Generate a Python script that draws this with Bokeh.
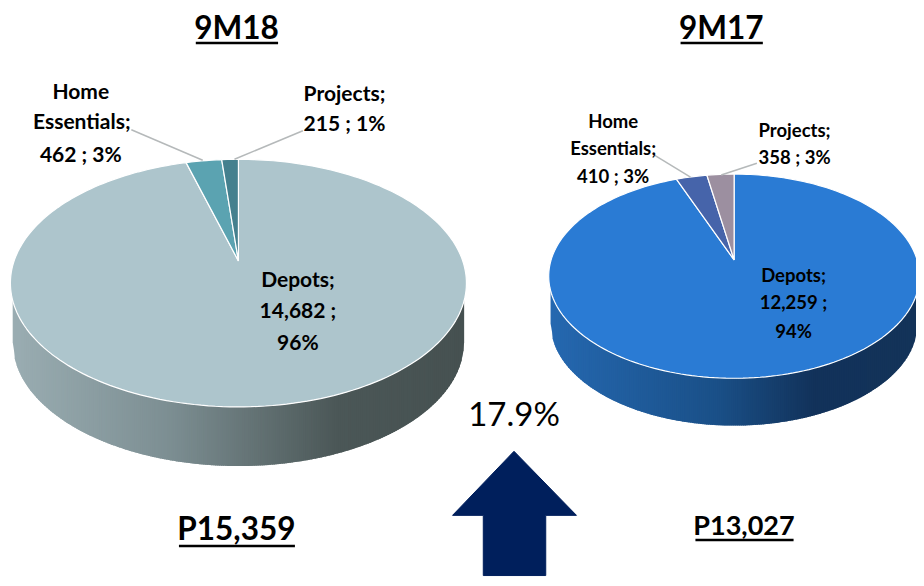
from math import sin, cos, pi, sqrt
from bokeh.plotting import figure
from bokeh.embed import file_html
from bokeh.resources import INLINE
from bokeh.core.properties import value

categories = ["Depots", "Home Essentials", "Projects"]
values_9m18 = [14682, 462, 215]
values_9m17 = [12259, 410, 358]
percent_9m18 = [96, 3, 1]
percent_9m17 = [94, 3, 3]
total_9m18 = "P15,359"
total_9m17 = "P13,027"
growth = "17.9%"
titles = ["9M18", "9M17"]

FONT = "Lato"

p = figure(width=916, height=578, x_range=(0, 924), y_range=(586, 0),
           output_backend="svg", toolbar_location=None, min_border=0,
           x_axis_type=None, y_axis_type=None, outline_line_color=None,
           background_fill_color="white", border_fill_color="white")
p.grid.visible = False


def hexmix(stops, t):
    for (t0, c0), (t1, c1) in zip(stops, stops[1:]):
        if t <= t1:
            u = (t - t0) / (t1 - t0)
            return "#%02x%02x%02x" % tuple(
                round(int(c0[i:i+2], 16) * (1 - u) + int(c1[i:i+2], 16) * u) for i in (1, 3, 5))
    return stops[-1][1]


def pie(vals, cx, ay, top, bottom, rx, depth, cols, wall):
    # perspective disc: the apex sits above the ellipse's middle
    up, dn = ay - top, bottom - ay
    k = (dn - up) / (dn + up)
    b = up * (1 + k)
    r0 = rx * sqrt(1 - k * k)
    cy, ry = (top + bottom) / 2, (bottom - top) / 2

    def pt(th):
        X, Y = sin(th), cos(th)
        s = 1 / (1 + k * Y)
        return cx + r0 * X * s, ay - b * Y * s

    # wall: overlapping strips painted left to right give the gradient
    n = int(rx)
    rb = rx * 0.99
    xs, ys, cs = [], [], []
    for i in range(n):
        x0 = cx - rb + 2 * rb * i / n
        x1 = min(cx + rb, x0 + 2 * rb / n + 1.5)
        xx = [x0, x1]
        upper = [cy + ry * sqrt(max(0, 1 - ((x - cx) / rx) ** 2)) for x in xx]
        lower = [cy + depth + ry * sqrt(max(0, 1 - ((x - cx) / rb) ** 2)) for x in xx]
        xs.append([x0, x1, x1, x0])
        ys.append([upper[0], upper[1], lower[1], lower[0]])
        cs.append(hexmix(wall, (i + .5) / n))
    p.patches(xs, ys, fill_color=cs, line_color=None)

    # top slices, clockwise from 12 o'clock
    start = 0.0
    total = sum(vals)
    for v, c in zip(vals, cols):
        end = start + 2 * pi * v / total
        m = max(3, int(240 * v / total))
        arc = [pt(start + (end - start) * j / m) for j in range(m + 1)]
        p.patch([cx] + [a[0] for a in arc], [ay] + [a[1] for a in arc],
                fill_color=c, line_color="white", line_width=1.2)
        start = end


pie(values_9m18, 240, 264, 161, 412, 230, 60,
    ["#adc5cc", "#5ba3b1", "#44808e"],
    [(0, "#9aadb2"), (0.35, "#7c8e92"), (0.72, "#4b5757"), (1, "#465151")])
pie(values_9m17, 740, 263, 176, 383, 187, 48,
    ["#2a7bd4", "#4664aa", "#9c8fa0"],
    [(0, "#2568b0"), (0.45, "#1a5088"), (0.72, "#12325a"), (1, "#133359")])


def txt(x, y, s, size, bold=True):
    p.text([x], [y], text=[s], text_font=value(FONT), text_font_size=f"{size}px",
           text_font_style="bold" if bold else "normal", text_align="center",
           text_baseline="middle", text_color="#000000")


# leader lines
p.line([132, 204], [131, 162], line_color="#b5b9ba", line_width=1.5)
p.line([305, 236], [132, 161], line_color="#b5b9ba", line_width=1.5)
p.line([660, 696], [157, 179], line_color="#b5b9ba", line_width=1.5)
p.line([763, 727], [165, 177], line_color="#b5b9ba", line_width=1.5)

# left labels
txt(81, 91, "Home", 21)
txt(82, 122, "Essentials;", 21)
txt(81, 155, f"{values_9m18[1]} ; {percent_9m18[1]}%", 21)
txt(347, 93, "Projects;", 21)
txt(347, 124, f"{values_9m18[2]} ; {percent_9m18[2]}%", 21)
txt(300, 282, "Depots;", 21)
txt(300, 313, f"{values_9m18[0]:,} ;", 21)
txt(300, 346, f"{percent_9m18[0]}%", 21)

# right labels
txt(618, 122, "Home", 18.5)
txt(618, 150, "Essentials;", 18.5)
txt(618, 178, f"{values_9m17[1]} ; {percent_9m17[1]}%", 18.5)
txt(801, 131, "Projects;", 18.5)
txt(801, 159, f"{values_9m17[2]} ; {percent_9m17[2]}%", 18.5)
txt(800, 278, "Depots;", 18.5)
txt(800, 306, f"{values_9m17[0]:,} ;", 18.5)
txt(800, 335, f"{percent_9m17[0]}%", 18.5)

# headings
txt(238, 27, titles[0], 31.5)
txt(727, 27, titles[1], 31.5)
p.line([197, 280], [43, 43], line_color="black", line_width=2.5)
p.line([686, 769], [43, 43], line_color="black", line_width=2.5)
txt(238, 535, total_9m18, 31.5)
txt(750, 531, total_9m17, 27)
p.line([180, 297], [553, 553], line_color="black", line_width=2.5)
p.line([701, 800], [547, 547], line_color="black", line_width=2.5)

txt(518, 418, growth, 33, bold=False)

# arrow
ax = 518
p.patch([ax, ax + 63, ax + 32, ax + 32, ax - 31, ax - 31, ax - 62],
        [457, 522, 522, 583, 583, 522, 522], fill_color="#001f5c", line_color="#001f5c")

open("out.html", "w").write(file_html(p, INLINE))
